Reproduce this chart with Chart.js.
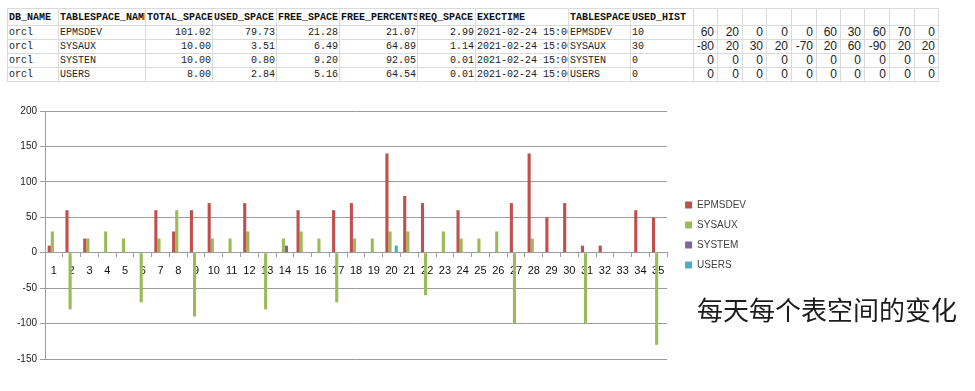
<!DOCTYPE html>
<html>
<head>
<meta charset="utf-8">
<script src="https://cdn.jsdelivr.net/npm/chart.js@4/dist/chart.umd.min.js"></script>
<style>
  html, body { margin:0; padding:0; background:#fff; width:975px; height:391px; overflow:hidden; position:relative; }
  #tbl { position:absolute; left:7px; top:8px; border-collapse:collapse; table-layout:fixed; width:931px;
         font-family:'Liberation Mono', monospace; font-size:10px; color:#222; }
  #tbl td { border:1px solid #dadada; padding:0 1px; height:13px; line-height:13px; white-space:nowrap; overflow:hidden; text-overflow:clip; }
  #tbl tr.hd td { height:16px; font-weight:bold; color:#111; }
  #tbl td.r { text-align:right; }
  #tbl td.n { text-align:right; font-family:'Liberation Sans', Arial, sans-serif; font-size:12px; padding-right:3px; }
  #wrap { position:absolute; left:0; top:100px; width:975px; height:275px; }
  #note { position:absolute; left:697px; top:295px; font-family:'Noto Sans CJK SC', sans-serif; font-size:26px;
          line-height:28px; color:#1c1c1c; white-space:nowrap; }
</style>
</head>
<body>
<table id="tbl"></table>
<div id="wrap"><canvas id="chartTbs"></canvas></div>
<div id="note">每天每个表空间的变化</div>
<script>
(function(){
  'use strict';
  // datos de la tabla
  const headers = ['DB_NAME','TABLESPACE_NAME','TOTAL_SPACE','USED_SPACE','FREE_SPACE','FREE_PERCENTS','REQ_SPACE','EXECTIME','TABLESPACE_NAME','USED_HIST'];
  const tbsNames = ['EPMSDEV','SYSAUX','SYSTEM','USERS'];
  const totalSpace = ['101.02','10.00','10.00','8.00'];
  const usedSpace = ['79.73','3.51','0.80','2.84'];
  const freeSpace = ['21.28','6.49','9.20','5.16'];
  const freePct = ['21.07','64.89','92.05','64.54'];
  const reqSpace = ['2.99','1.14','0.01','0.01'];
  const execTime = '2021-02-24 15:00:00';
  const colW = [51,87,67,64,63,78,58,93,62,63,24,25,24,25,25,24,24,25,25,24];

  // datos del gráfico: variación diaria por tablespace
  const days = Array.from({length:35}, (_, i) => String(i + 1));
  const epmsdev = [10,60,20,0,0,0,60,30,60,70, 0,70,0,0,60,0,60,70,0,140, 80,70,0,60,0,0,70,140,50,70, 10,10,0,60,50];
  const sysaux  = [30,-80,20,30,20,-70,20,60,-90,20, 20,30,-80,20,30,20,-70,20,20,30, 30,-60,30,20,20,30,-100,20,0,0, -100,0,0,0,-130];
  const system  = [0,0,0,0,0,0,0,0,0,0, 0,0,0,10,0,0,0,0,0,0, 0,0,0,0,0,0,0,0,0,0, 0,0,0,0,0];
  const users   = [0,0,0,0,0,0,0,0,0,0, 0,0,0,0,0,0,0,0,0,10, 0,0,0,0,0,0,0,0,0,0, 0,0,0,0,0];
  const series = [epmsdev, sysaux, system, users];
  const yTicks = [-150,-100,-50,0,50,100,150,200];

  const C = {red:'#c0504d', green:'#9bbb59', purple:'#8064a2', teal:'#4bacc6', grid:'#9c9c9c', text:'#222'};

  // tabla
  const tbl = document.getElementById('tbl');
  let html = '<colgroup>' + colW.map(w => '<col style="width:' + w + 'px">').join('') + '</colgroup>';
  html += '<tr class="hd">' + headers.map(h => '<td>' + h + '</td>').join('') + '<td></td>'.repeat(10) + '</tr>';
  tbsNames.forEach((n, i) => {
    const s = series[i];
    html += '<tr><td>orcl</td><td>' + n.replace('SYSTEM','SYSTEN') + '</td>' +
      '<td class="r">' + totalSpace[i] + '</td><td class="r">' + usedSpace[i] + '</td><td class="r">' + freeSpace[i] +
      '</td><td class="r">' + freePct[i] + '</td><td class="r">' + reqSpace[i] + '</td><td>' + execTime +
      '</td><td>' + n.replace('SYSTEM','SYSTEN') + '</td><td>' + s[0] + '</td>' +
      s.slice(1, 11).map(v => '<td class="n">' + v + '</td>').join('') + '</tr>';
  });
  tbl.innerHTML = html;

  Chart.defaults.font.family = "'Liberation Sans', Arial, sans-serif";
  Chart.defaults.color = C.text;

  new Chart(document.getElementById('chartTbs'), {type:'bar', data:{
    labels: days,
    datasets: tbsNames.map((n, i) => ({label:n, data:series[i], backgroundColor:[C.red,C.green,C.purple,C.teal][i],
      borderWidth:0, barPercentage:1, categoryPercentage:0.7}))},
    options:{responsive:true, maintainAspectRatio:false, animation:false,
      layout:{padding:{top:11, bottom:16, left:0, right:219}},
      plugins:{legend:{position:'right', align:'center',
        labels:{boxWidth:7, boxHeight:7, padding:10, color:'#404040', font:{size:10}}},
        tooltip:{enabled:false}},
      scales:{
        x:{position:{y:0}, afterFit: s => { s.height = 0; },
          grid:{drawOnChartArea:false, drawTicks:true, tickLength:4, color:C.grid},
          border:{color:C.grid},
          ticks:{font:{size:11}, color:'#111', padding:8, maxRotation:0, autoSkip:false}},
        y:{min:-150, max:200, afterFit: s => { s.width = 45; },
          afterBuildTicks: s => { s.ticks = yTicks.map(v => ({value:v})); },
          grid:{color:C.grid, tickLength:5},
          border:{color:C.grid},
          ticks:{font:{size:10}, color:'#222', padding:3}},
        gap:{position:'right', afterFit: s => { s.width = 8; },
          grid:{display:false}, border:{display:false}, ticks:{display:false}}
      }}});
})();
</script>
</body>
</html>
